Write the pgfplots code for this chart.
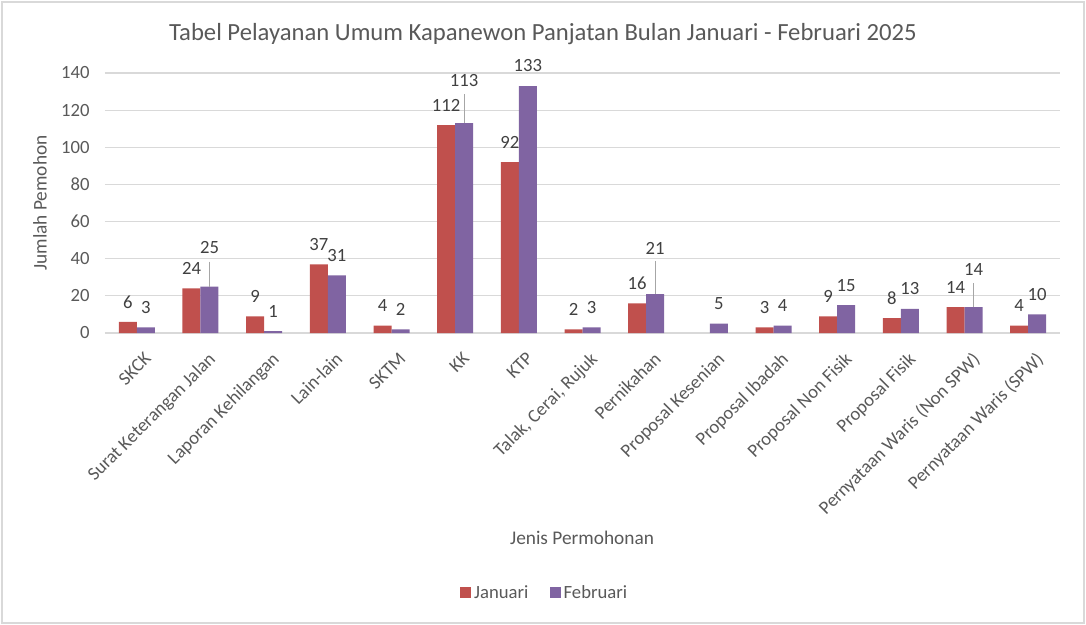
\documentclass[border=0pt]{standalone}
\usepackage{fontspec}
\setmainfont{Carlito}
\usepackage{pgfplots}
\usepackage{pgfplotstable}
\pgfplotsset{compat=1.18}

\definecolor{janred}{HTML}{C0504D}
\definecolor{febpurple}{HTML}{8064A2}
\definecolor{gridgray}{HTML}{D9D9D9}
\definecolor{txtgray}{HTML}{595959}
\definecolor{lblgray}{HTML}{404040}
\definecolor{leadgray}{HTML}{A6A6A6}

% Januari (Proposal Kesenian = 0, left out so it gets no label)
\pgfplotstableread{
x y
0 6
1 24
2 9
3 37
4 4
5 112
6 92
7 2
8 16
10 3
11 9
12 8
13 14
14 4
}\januari

% Februari; err = leader line length, lift = extra label offset (pt)
\pgfplotstableread{
x y err lift
0 3 0 0
1 25 13.5 14
2 1 0 0
3 31 0 0
4 2 0 0
5 113 15.6 17
6 133 0 0
7 3 0 0
8 21 17.8 19.5
9 5 0 0
10 4 0 0
11 15 0 0
12 13 0 0
13 14 12.9 13.5
14 10 0 0
}\februari

\begin{document}
\begin{tikzpicture}
\useasboundingbox (-78.75pt,-219pt) rectangle (735.75pt,249.75pt);
\draw[gridgray, line width=1.2pt] (-77.2pt,-217.5pt) rectangle (734.2pt,248.2pt);
\begin{axis}[
    at={(0,0)}, anchor=south west,
    scale only axis,
    width=716.25pt, height=195pt,
    ybar=0pt, bar width=13.5pt,
    xmin=-0.5, xmax=14.5,
    ymin=0, ymax=140,
    ytick={0,20,...,140},
    xtick={0,...,14},
    xticklabels={SKCK, Surat Keterangan Jalan, Laporan Kehilangan, Lain-lain, SKTM, KK, KTP, {Talak, Cerai, Rujuk}, Pernikahan, Proposal Kesenian, Proposal Ibadah, Proposal Non Fisik, Proposal Fisik, Pernyataan Waris (Non SPW), Pernyataan Waris (SPW)},
    major tick length=0pt,
    axis x line*=bottom, axis y line*=left,
    x axis line style={gridgray, line width=0.9pt, -},
    y axis line style={draw=none},
    ymajorgrids, grid style={gridgray, line width=0.9pt},
    /pgf/number format/assume math mode=true,
    ticklabel style={font=\fontsize{14}{16}\selectfont, text=txtgray},
    yticklabel style={xshift=-8pt},
    xticklabel style={yshift=-12pt, xshift=5pt, rotate=45, anchor=north east, inner sep=1pt},
    title={Tabel Pelayanan Umum Kapanewon Panjatan Bulan Januari - Februari 2025},
    title style={at={(0.4586,1.119)}, anchor=center, font=\fontsize{18.5}{22}\selectfont, text=txtgray},
    ylabel={Jumlah Pemohon},
    ylabel style={at={(-0.068,0.5)}, anchor=center, rotate=0, font=\fontsize{14.5}{17}\selectfont, text=txtgray},
    xlabel={Jenis Permohonan},
    xlabel style={at={(0.4995,-0.788)}, anchor=center, font=\fontsize{14.5}{17}\selectfont, text=txtgray},
    legend style={at={(0.4607,-1.0)}, anchor=center, draw=none, fill=none,
        legend columns=2, font=\fontsize{14}{16}\selectfont, text=txtgray,
        /tikz/every even column/.append style={column sep=14pt}},
    legend image code/.code={\fill[#1] (0pt,-4pt) rectangle (8.5pt,4.5pt);},
    nodes near coords,
    nodes near coords style={font=\fontsize{14}{16}\selectfont, text=lblgray, anchor=center},
]
\addplot[fill=janred, draw=none, nodes near coords style={yshift=15pt}]
    table[x=x, y=y] {\januari};
\addplot[fill=febpurple, draw=none,
    visualization depends on={\thisrow{lift} \as \lift},
    nodes near coords style={yshift=15pt+\lift pt},
    error bars/.cd, y dir=plus, y explicit,
    error mark=none, error bar style={leadgray, line width=0.9pt}]
    table[x=x, y=y, y error=err] {\februari};
\legend{Januari, Februari}
\end{axis}
\end{tikzpicture}
\end{document}
